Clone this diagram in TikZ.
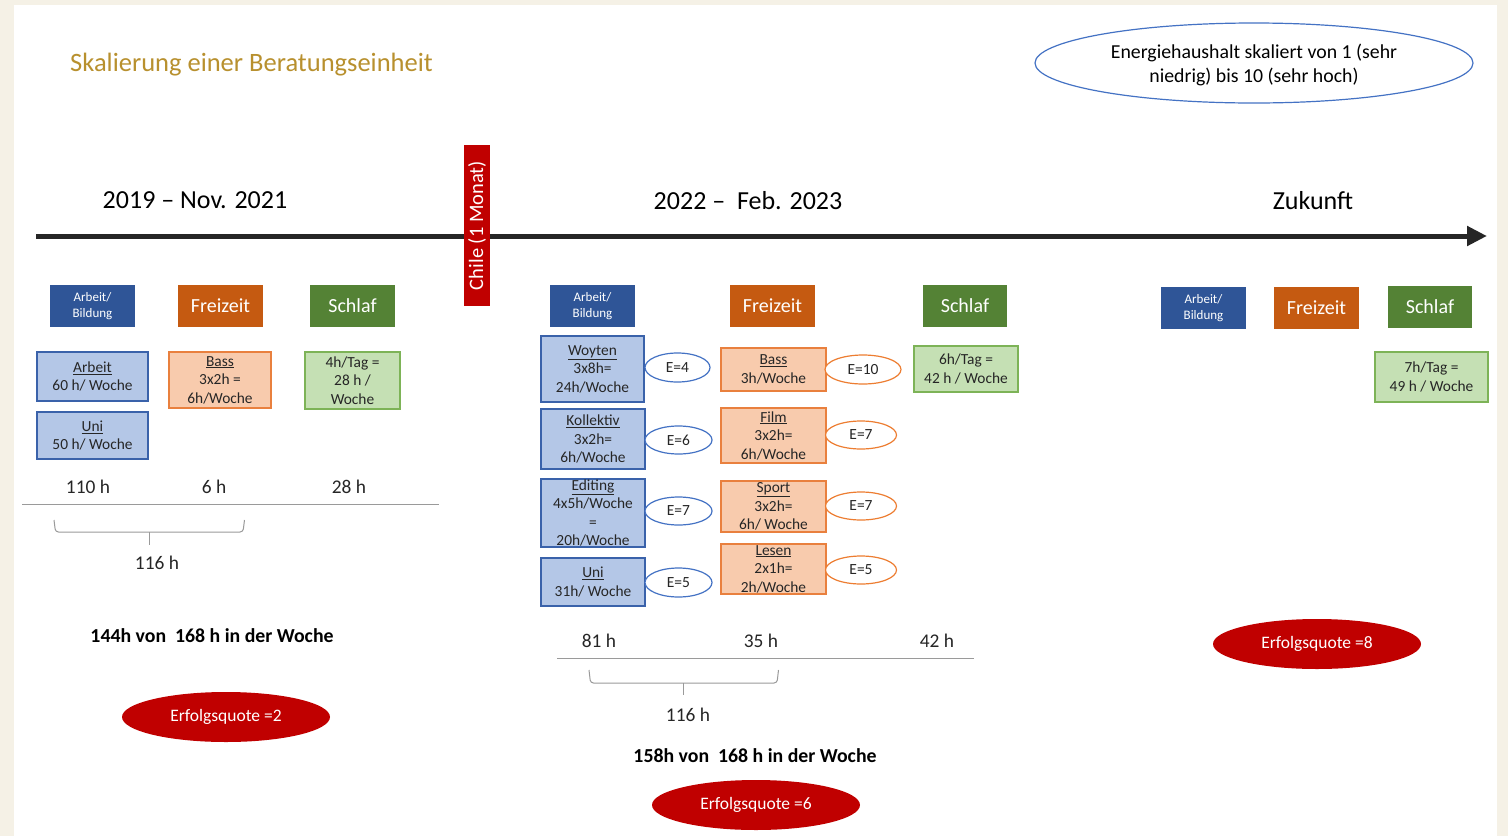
\documentclass[tikz,border=0pt]{standalone}
\usepackage{fontspec}
\setmainfont{Carlito}
\usetikzlibrary{shapes.geometric,arrows.meta}
\definecolor{bgbeige}{HTML}{F5F1E6}
\definecolor{titlegold}{HTML}{B8902E}
\definecolor{hblue}{HTML}{2F5597}
\definecolor{horange}{HTML}{C55A11}
\definecolor{hgreen}{HTML}{548235}
\definecolor{lblue}{HTML}{B4C7E7}
\definecolor{lbluedraw}{HTML}{3A62AA}
\definecolor{lorange}{HTML}{F8CBAD}
\definecolor{lorangedraw}{HTML}{E9803E}
\definecolor{lgreen}{HTML}{C5E0B4}
\definecolor{lgreendraw}{HTML}{7DB357}
\definecolor{eblue}{HTML}{4472C4}
\definecolor{eorange}{HTML}{ED7D31}
\definecolor{qred}{HTML}{C00000}
\definecolor{tlcol}{HTML}{262626}
\definecolor{rulegray}{HTML}{9A9A9A}
\definecolor{txt}{HTML}{262626}
\tikzset{
  hdr/.style={rectangle, minimum width=85pt, minimum height=42pt, inner sep=0pt, text=white, align=center},
  hA/.style={hdr, fill=hblue, font=\fontsize{13}{16}\selectfont},
  hF/.style={hdr, fill=horange, font=\fontsize{20}{22}\selectfont},
  hS/.style={hdr, fill=hgreen, font=\fontsize{20}{22}\selectfont},
  bx/.style={rectangle, inner sep=0pt, align=center, line width=1.2pt, text=txt, font=\fontsize{15.4}{18.5}\selectfont},
  bb/.style={bx, fill=lblue, draw=lbluedraw},
  bo/.style={bx, fill=lorange, draw=lorangedraw},
  bg/.style={bx, fill=lgreen, draw=lgreendraw},
  ee/.style={ellipse, inner sep=0pt, fill=white, line width=1.2pt, text=txt, font=\fontsize{15.5}{17}\selectfont},
  eb/.style={ee, draw=eblue},
  eo/.style={ee, draw=eorange},
  tot/.style={text=txt, font=\fontsize{19.4}{22}\selectfont},
  eq/.style={ellipse, fill=qred, minimum width=208pt, minimum height=50pt, inner sep=0pt, text=white, font=\fontsize{17.5}{19}\selectfont},
  period/.style={text=black, font=\fontsize{26}{30}\selectfont},
  sumtxt/.style={text=black, font=\bfseries\fontsize{19.8}{22}\selectfont},
  brace/.style={draw=rulegray, line width=1pt, rounded corners=3pt},
  hrule/.style={draw=rulegray, line width=1pt}
}
\begin{document}
\begin{tikzpicture}[x=1pt,y=-1pt]
\useasboundingbox (0,0) rectangle (1508,836);
\fill[bgbeige] (0,0) rectangle (1508,836);
\fill[white] (14,5) rectangle (1497,836);

% title and legend
\node[text=titlegold, font=\fontsize{26.5}{30}\selectfont] (title) at (251.5,65) {Skalierung einer Beratungseinheit};
\node[ellipse, draw=eblue, line width=1.2pt, minimum width=438pt, minimum height=80pt, inner sep=0pt, align=center, text=black, font=\fontsize{19.8}{24}\selectfont] (legend) at (1254,63) {};
\node[align=center, text=black, font=\fontsize{19.8}{24}\selectfont] (legendtext) at (1254,65) {Energiehaushalt skaliert von 1 (sehr\\niedrig) bis 10 (sehr hoch)};

% timeline
\coordinate (tlstart) at (36,236);
\coordinate (tlend) at (1487,236);
\draw[tlcol, line width=5pt, -{Triangle[length=20pt,width=19pt]}] (tlstart) -- (tlend);
\node[period] (p1) at (195,200.5) {2019 – Nov. 2021};
\node[period] (p2) at (748,200.5) {2022 –\ \ Feb. 2023};
\node[period] (p3) at (1313,200.5) {Zukunft};
\node[rectangle, fill=qred, rotate=90, minimum width=161pt, minimum height=26pt, inner sep=0pt, text=white, font=\fontsize{20.5}{22}\selectfont] (chile) at (477,225.5) {Chile (1 Monat)};

% ---------- left period
\node[hA] (hA1) at (92.5,306) {Arbeit/\\Bildung};
\node[hF] (hF1) at (220.5,306) {Freizeit};
\node[hS] (hS1) at (352.5,306) {Schlaf};
\node[bb, minimum width=111pt, minimum height=49pt] (arbeit1) at (92.5,376.5) {\underline{Arbeit}\\60 h/ Woche};
\node[bb, minimum width=111pt, minimum height=47pt] (uni1) at (92.5,435.5) {\underline{Uni}\\50 h/ Woche};
\node[bo, minimum width=102pt, minimum height=56pt] (bass1) at (220,380) {\underline{Bass}\\3x2h =\\6h/Woche};
\node[bg, minimum width=95pt, minimum height=57pt] (schlaf1) at (352.5,380.5) {4h/Tag =\\28 h /\\Woche};
\node[tot] (t11) at (88,486.5) {110 h};
\node[tot] (t12) at (214,486.5) {6 h};
\node[tot] (t13) at (349,486.5) {28 h};
\draw[hrule] (22,504) -- (439,504);
\draw[brace] (54,520) -- (55.5,532) -- (243,532) -- (244.5,520);
\draw[brace] (149,532) -- (149,545);
\node[tot] (s1) at (157,562.5) {116 h};
\node[sumtxt] (w1) at (212,635.5) {144h von\ \ 168 h in der Woche};
\node[eq] (q1) at (226,717) {Erfolgsquote =2};

% ---------- middle period
\node[hA] (hA2) at (592.5,306) {Arbeit/\\Bildung};
\node[hF] (hF2) at (772.5,306) {Freizeit};
\node[hS, minimum width=84pt] (hS2) at (965,306) {Schlaf};
\node[bb, minimum width=103pt, minimum height=66pt] (woyten) at (592.5,369) {\underline{Woyten}\\3x8h=\\24h/Woche};
\node[bb, minimum width=104pt, minimum height=60pt] (koll) at (593,439) {\underline{Kollektiv}\\3x2h=\\6h/Woche};
\node[bb, minimum width=104pt, minimum height=68pt] (edit) at (593,513) {\underline{Editing}\\4x5h/Woche\\=\\20h/Woche};
\node[bb, minimum width=104pt, minimum height=48pt] (uni2) at (593,582) {\underline{Uni}\\31h/ Woche};
\node[eb, minimum width=65pt, minimum height=29pt] (e1) at (677.5,367.5) {E=4};
\node[eb, minimum width=67pt, minimum height=28pt] (e2) at (678.5,440) {E=6};
\node[eb, minimum width=67pt, minimum height=28pt] (e3) at (678.5,511) {E=7};
\node[eb, minimum width=67pt, minimum height=29pt] (e4) at (678.5,582.5) {E=5};
\node[bo, minimum width=105pt, minimum height=43pt] (bass2) at (773.5,369.5) {\underline{Bass}\\3h/Woche};
\node[bo, minimum width=105pt, minimum height=55pt] (film) at (773.5,435.5) {\underline{Film}\\3x2h=\\6h/Woche};
\node[bo, minimum width=105pt, minimum height=51pt] (sport) at (773.5,506.5) {\underline{Sport}\\3x2h=\\6h/ Woche};
\node[bo, minimum width=105pt, minimum height=50pt] (lesen) at (773.5,569) {\underline{Lesen}\\2x1h=\\2h/Woche};
\node[eo, minimum width=76pt, minimum height=29pt] (f1) at (863,369.5) {E=10};
\node[eo, minimum width=71pt, minimum height=28pt] (f2) at (861,435) {E=7};
\node[eo, minimum width=71pt, minimum height=28pt] (f3) at (861,506) {E=7};
\node[eo, minimum width=71pt, minimum height=28pt] (f4) at (861,570) {E=5};
\node[bg, minimum width=104pt, minimum height=46pt] (schlaf2) at (966,369) {6h/Tag =\\42 h / Woche};
\node[tot] (t21) at (599,640.5) {81 h};
\node[tot] (t22) at (761,640.5) {35 h};
\node[tot] (t23) at (937,640.5) {42 h};
\draw[hrule] (557,658) -- (974,658);
\draw[brace] (589,670) -- (590.5,683) -- (777,683) -- (778.5,670);
\draw[brace] (683,683) -- (683,695);
\node[tot] (s2) at (688,714.5) {116 h};
\node[sumtxt] (w2) at (755,755.5) {158h von\ \ 168 h in der Woche};
\node[eq] (q2) at (756,805) {Erfolgsquote =6};

% ---------- future
\node[hA] (hA3) at (1203.5,308) {Arbeit/\\Bildung};
\node[hF] (hF3) at (1316.5,308) {Freizeit};
\node[hS, minimum width=84pt] (hS3) at (1430,307) {Schlaf};
\node[bg, minimum width=113pt, minimum height=50pt] (schlaf3) at (1431.5,377) {7h/Tag =\\49 h / Woche};
\node[eq] (q3) at (1317,644) {Erfolgsquote =8};
\end{tikzpicture}
\end{document}
